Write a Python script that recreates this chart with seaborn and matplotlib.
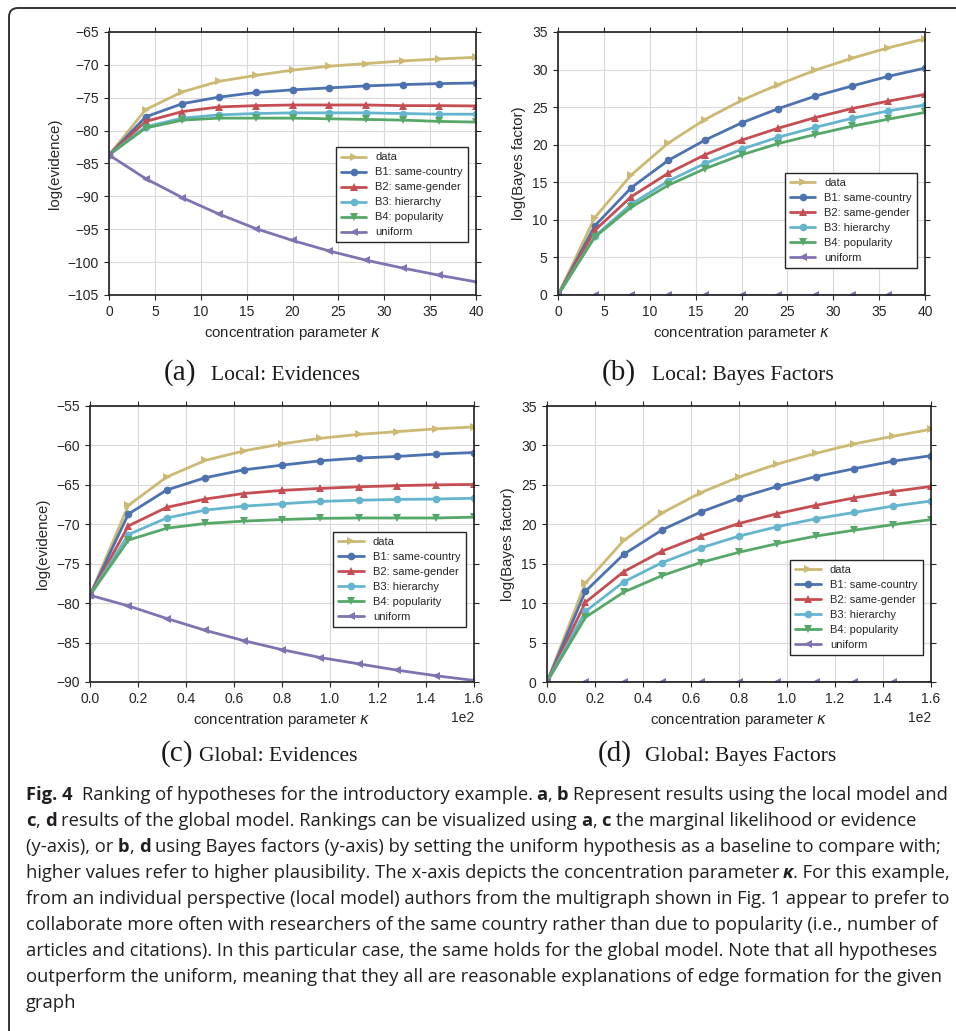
import numpy as np
import pandas as pd
import matplotlib
matplotlib.use("Agg")
import matplotlib.pyplot as plt
import seaborn as sns
from matplotlib.patches import FancyBboxPatch
from matplotlib.transforms import IdentityTransform

# ---------------- data ----------------
hypotheses = ["data", "B1: same-country", "B2: same-gender", "B3: hierarchy",
              "B4: popularity", "uniform"]
colors = ["#CCB974", "#4C72B0", "#C44E52", "#64B5CD", "#55A868", "#8172B2"]
marker_list = [">", "o", "^", "o", "v", "<"]

kappa_local = [0, 4, 8, 12, 16, 20, 24, 28, 32, 36, 40]
kappa_global = [0, 16, 32, 48, 64, 80, 96, 112, 128, 144, 160]

# (a) Local: evidences
la_data = [-83.7, -76.8, -74.1, -72.5, -71.6, -70.8, -70.2, -69.8, -69.4, -69.1, -68.85]
la_b1 = [-83.7, -77.9, -75.9, -74.9, -74.2, -73.8, -73.5, -73.2, -73.0, -72.85, -72.75]
la_b2 = [-83.7, -78.6, -77.1, -76.4, -76.2, -76.1, -76.1, -76.1, -76.2, -76.2, -76.25]
la_b3 = [-83.7, -79.4, -78.1, -77.6, -77.4, -77.3, -77.3, -77.3, -77.4, -77.5, -77.5]
la_b4 = [-83.7, -79.6, -78.4, -78.1, -78.1, -78.1, -78.2, -78.3, -78.4, -78.6, -78.7]
la_uni = [-83.7, -87.3, -90.2, -92.7, -94.9, -96.7, -98.3, -99.7, -100.9, -102.0, -103.0]

# (b) Local: Bayes factors
lb_data = [0, 10.3, 16.0, 20.2, 23.35, 25.9, 28.0, 29.9, 31.5, 32.9, 34.1]
lb_b1 = [0, 9.2, 14.3, 17.9, 20.6, 22.9, 24.8, 26.45, 27.8, 29.1, 30.2]
lb_b2 = [0, 8.6, 13.1, 16.2, 18.65, 20.6, 22.2, 23.6, 24.8, 25.8, 26.7]
lb_b3 = [0, 7.8, 12.1, 15.15, 17.5, 19.4, 21.0, 22.3, 23.5, 24.5, 25.3]
lb_b4 = [0, 7.7, 11.7, 14.6, 16.8, 18.65, 20.15, 21.35, 22.45, 23.4, 24.3]
lb_uni = [0, 0, 0, 0, 0, 0, 0, 0, 0, 0, 0]

# (c) Global: evidences
gc_data = [-79.0, -67.6, -64.0, -61.9, -60.7, -59.8, -59.1, -58.6, -58.25, -57.9, -57.65]
gc_b1 = [-79.0, -68.7, -65.65, -64.1, -63.1, -62.5, -61.95, -61.6, -61.4, -61.1, -60.9]
gc_b2 = [-79.0, -70.2, -67.85, -66.8, -66.1, -65.7, -65.45, -65.25, -65.1, -65.0, -64.95]
gc_b3 = [-79.0, -71.3, -69.2, -68.2, -67.7, -67.4, -67.1, -66.95, -66.85, -66.8, -66.7]
gc_b4 = [-79.0, -72.0, -70.5, -69.9, -69.6, -69.4, -69.25, -69.2, -69.2, -69.2, -69.1]
gc_uni = [-79.0, -80.35, -81.95, -83.45, -84.75, -85.9, -86.9, -87.7, -88.5, -89.2, -89.8]

# (d) Global: Bayes factors
gd_data = [0, 12.55, 17.95, 21.45, 24.0, 26.0, 27.65, 29.0, 30.2, 31.15, 32.05]
gd_b1 = [0, 11.5, 16.2, 19.3, 21.55, 23.35, 24.8, 26.05, 27.05, 28.0, 28.7]
gd_b2 = [0, 10.1, 14.0, 16.6, 18.5, 20.1, 21.35, 22.4, 23.35, 24.15, 24.8]
gd_b3 = [0, 8.95, 12.7, 15.15, 17.0, 18.5, 19.7, 20.7, 21.5, 22.3, 22.95]
gd_b4 = [0, 8.2, 11.4, 13.5, 15.15, 16.45, 17.55, 18.5, 19.25, 19.95, 20.6]
gd_uni = [0, 0, 0, 0, 0, 0, 0, 0, 0, 0, 0]

xlabel = "concentration parameter $\\kappa$"
panel_labels = ["(a)", "(b)", "(c)", "(d)"]
panel_titles = ["Local: Evidences", "Local: Bayes Factors",
                "Global: Evidences", "Global: Bayes Factors"]
ylabels = ["log(evidence)", "log(Bayes factor)", "log(evidence)", "log(Bayes factor)"]

caption_lines = [
    [("Fig. 4", "bold", "normal"), ("  Ranking of hypotheses for the introductory example. ", "normal", "normal"),
     ("a", "bold", "normal"), (", ", "normal", "normal"), ("b", "bold", "normal"),
     (" Represent results using the local model and", "normal", "normal")],
    [("c", "bold", "normal"), (", ", "normal", "normal"), ("d", "bold", "normal"),
     (" results of the global model. Rankings can be visualized using ", "normal", "normal"),
     ("a", "bold", "normal"), (", ", "normal", "normal"), ("c", "bold", "normal"),
     (" the marginal likelihood or evidence", "normal", "normal")],
    [("(y-axis), or ", "normal", "normal"), ("b", "bold", "normal"), (", ", "normal", "normal"),
     ("d", "bold", "normal"),
     (" using Bayes factors (y-axis) by setting the uniform hypothesis as a baseline to compare with;", "normal", "normal")],
    [("higher values refer to higher plausibility. The x-axis depicts the concentration parameter ", "normal", "normal"),
     ("\u03ba", "bold", "italic"), (". For this example,", "normal", "normal")],
    [("from an individual perspective (local model) authors from the multigraph shown in Fig. 1 appear to prefer to", "normal", "normal")],
    [("collaborate more often with researchers of the same country rather than due to popularity (i.e., number of", "normal", "normal")],
    [("articles and citations). In this particular case, the same holds for the global model. Note that all hypotheses", "normal", "normal")],
    [("outperform the uniform, meaning that they all are reasonable explanations of edge formation for the given", "normal", "normal")],
    [("graph", "normal", "normal")],
]

# ---------------- style ----------------
sns.set_style("whitegrid", rc={
    "axes.edgecolor": ".15", "axes.linewidth": 1.25,
    "grid.color": ".85", "grid.linewidth": 1.0,
    "xtick.direction": "out", "ytick.direction": "out",
    "xtick.major.size": 5, "ytick.major.size": 5,
    "xtick.major.width": 1.1, "ytick.major.width": 1.1,
    "xtick.color": ".15", "ytick.color": ".15",
    "axes.labelcolor": ".15", "text.color": ".15",
})
plt.rcParams["font.family"] = ["Liberation Sans", "DejaVu Sans"]

W, H = 956, 1031
fig = plt.figure(figsize=(W / 100, H / 100), dpi=100)
fig.patch.set_facecolor("white")


def ax_rect(left, right, top, bottom):
    return [left / W, 1 - bottom / H, (right - left) / W, (bottom - top) / H]


rects = [ax_rect(109, 476, 32, 295), ax_rect(558, 925, 32, 295),
         ax_rect(90, 474, 406, 682), ax_rect(547, 931, 406, 682)]

panels = [
    (kappa_local, [la_data, la_b1, la_b2, la_b3, la_b4, la_uni], (-105, -65), 0.2),
    (kappa_local, [lb_data, lb_b1, lb_b2, lb_b3, lb_b4, lb_uni], (0, 35), 0.103),
    (kappa_global, [gc_data, gc_b1, gc_b2, gc_b3, gc_b4, gc_uni], (-90, -55), 0.2),
    (kappa_global, [gd_data, gd_b1, gd_b2, gd_b3, gd_b4, gd_uni], (0, 35), 0.098),
]

palette = dict(zip(hypotheses, colors))
markers = dict(zip(hypotheses, marker_list))

for i, (xs, series, ylim, leg_y) in enumerate(panels):
    ax = fig.add_axes(rects[i])
    rows = []
    for name, vals in zip(hypotheses, series):
        for x, v in zip(xs, vals):
            rows.append({"kappa": x, "value": v, "hypothesis": name})
    df = pd.DataFrame(rows)
    sns.lineplot(data=df, x="kappa", y="value", hue="hypothesis", style="hypothesis",
                 hue_order=hypotheses, style_order=hypotheses, palette=palette,
                 markers=markers, dashes=False, errorbar=None, ax=ax,
                 linewidth=2.0, markersize=5.5, markeredgewidth=0)
    ax.set_xlim(xs[0], xs[-1])
    ax.set_ylim(*ylim)
    ax.set_yticks(np.arange(ylim[0], ylim[1] + 0.1, 5))
    if i < 2:
        ax.set_xticks(np.arange(0, 41, 5))
    else:
        ax.set_xticks(np.arange(0, 161, 20))
        ax.ticklabel_format(axis="x", style="sci", scilimits=(0, 0))
        ax.xaxis.get_offset_text().set_fontsize(10)
    ax.tick_params(axis="both", which="major", labelsize=10, pad=4,
                   top=True, right=True, bottom=True, left=True)
    ax.set_xlabel(xlabel, fontsize=10.8, labelpad=3)
    ax.set_ylabel(ylabels[i], fontsize=10.8, labelpad=4)
    for s in ax.spines.values():
        s.set_color(".15")
        s.set_linewidth(1.25)
    handles, labels = ax.get_legend_handles_labels()
    leg = ax.legend(handles, labels, loc="lower right", bbox_to_anchor=(0.978, leg_y),
                    borderaxespad=0, frameon=True, fancybox=False, framealpha=1,
                    edgecolor=".15", fontsize=8, handlelength=2.3, handletextpad=0.8,
                    labelspacing=0.45, borderpad=0.45)
    leg.get_frame().set_linewidth(1.0)
    for h in leg.legend_handles:
        try:
            h.set_markeredgewidth(0)
            h.set_linewidth(2.0)
        except Exception:
            pass

# ---------------- sub-figure captions ----------------
serif = ["Liberation Serif", "DejaVu Serif"]
cap_pos = [(164, 211, 380), (602, 652, 380), (161, 199, 761), (598, 645, 761)]
for (xl, xt, yb), lab, title in zip(cap_pos, panel_labels, panel_titles):
    fig.text(xl / W, 1 - yb / H, lab, fontsize=21, family=serif, va="baseline", ha="left",
             color="#1a1a1a")
    fig.text(xt / W, 1 - yb / H, title, fontsize=15.5, family=serif, va="baseline", ha="left",
             color="#1a1a1a")

# ---------------- frame ----------------
frame = FancyBboxPatch((9, -60), 1100, 1031 - 8 + 60, boxstyle="round,pad=0,rounding_size=9",
                       transform=IdentityTransform(), facecolor="none", edgecolor="#333333",
                       linewidth=1.4)
fig.add_artist(frame)

# ---------------- caption text ----------------
renderer = fig.canvas.get_renderer()
cap_font = ["Open Sans", "DejaVu Sans"]
cap_color = "#231f20"


def text_width(s, size, weight, style):
    t = fig.text(0, 0, s, fontsize=size, fontweight=weight, fontstyle=style, family=cap_font)
    w = t.get_window_extent(renderer).width
    t.remove()
    return w


def space_width(size, weight, style):
    return text_width("x x", size, weight, style) - text_width("xx", size, weight, style)


def draw_line(segments, x0, yb, size, draw=True):
    x = x0
    for txt, weight, style in segments:
        sp = space_width(size, weight, style)
        lead = len(txt) - len(txt.lstrip(" "))
        trail = len(txt) - len(txt.rstrip(" "))
        core = txt.strip(" ")
        x += lead * sp
        if draw:
            fig.text(x / W, 1 - yb / H, core, fontsize=size, fontweight=weight, fontstyle=style,
                     family=cap_font, va="baseline", ha="left", color=cap_color)
        x += text_width(core, 10, weight, style) * size / 10 + trail * sp
    return x


x0 = 26
target_end = 947
probe = draw_line(caption_lines[0], x0, 0, 10, draw=False)
cap_size = 10 * (target_end - x0) / (probe - x0)
for k, seg in enumerate(caption_lines):
    draw_line(seg, x0, 800 + 26 * k, cap_size)

fig.savefig("out.png", dpi=100)
